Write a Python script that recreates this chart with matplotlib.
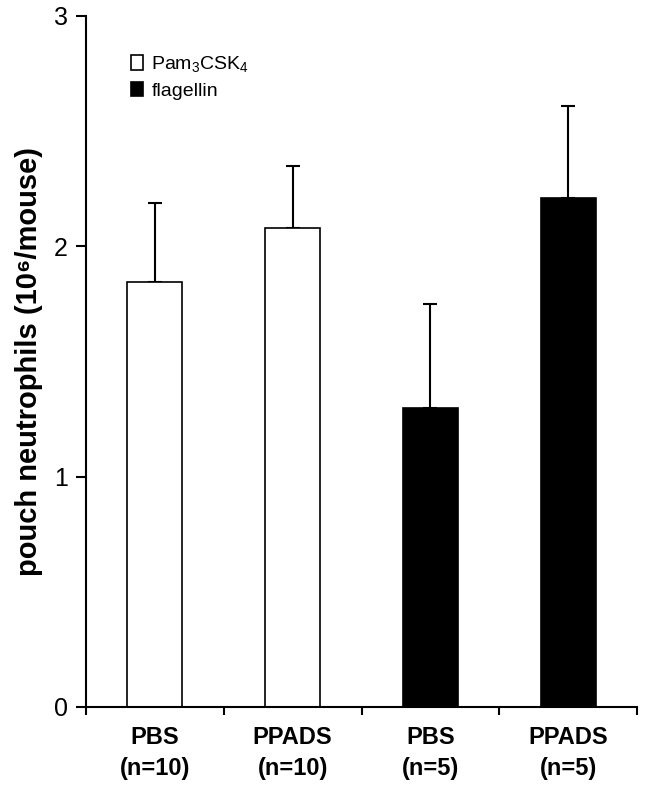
import numpy as np
import matplotlib
matplotlib.use('Agg')
from matplotlib import pyplot as plt
from matplotlib.patches import Patch

# -------------- data ---------------------------------------------------------
groups = ['PBS\n(n=10)', 'PPADS\n(n=10)', 'PBS\n(n=5)', 'PPADS\n(n=5)']
means = [1.845, 2.08, 1.30, 2.21]
errors = [0.345, 0.27, 0.45, 0.40]
colors = ['white', 'white', 'black', 'black']
legend_labels = ['Pam$_3$CSK$_4$', 'flagellin']
# ---------------------------------------------------------------------------

plt.rcParams['font.family'] = ['Liberation Sans', 'DejaVu Sans']
plt.rcParams['mathtext.default'] = 'regular'

fig = plt.figure(figsize=(6.45, 7.87), dpi=100)
ax = fig.add_axes([0.133, 0.1017, 0.855, 0.878])

x = np.arange(len(groups)) + 0.5
ax.bar(x, means, width=0.4, color=colors, edgecolor='black', linewidth=1.2, zorder=2)
ax.errorbar(x, means, yerr=[np.zeros(len(errors)), errors], fmt='none',
            ecolor='black', elinewidth=1.5, capsize=5, capthick=1.5, zorder=1)

ax.set_xlim(0, len(groups))
ax.set_ylim(0, 3)
ax.set_yticks([0, 1, 2, 3])
ax.set_xticks(np.arange(len(groups) + 1))
ax.set_xticklabels([])
ax.set_xticks(x, minor=True)
ax.set_xticklabels(groups, minor=True, fontsize=17, fontweight='bold', linespacing=1.4)
ax.tick_params(axis='x', which='minor', length=0, pad=14)
ax.tick_params(axis='x', which='major', length=6, width=1.5, direction='out')
ax.tick_params(axis='y', length=7, width=1.5, direction='out', labelsize=18, pad=6)

for s in ['top', 'right']:
    ax.spines[s].set_visible(False)
for s in ['left', 'bottom']:
    ax.spines[s].set_linewidth(1.5)

ax.set_ylabel('pouch neutrophils (10\u2076/mouse)', fontsize=21, fontweight='bold', labelpad=8)

handles = [Patch(facecolor=c, edgecolor='black', linewidth=1.2) for c in ['white', 'black']]
ax.legend(handles, legend_labels, loc='upper left', bbox_to_anchor=(0.05, 0.97),
          frameon=False, fontsize=14, handlelength=0.65, handleheight=0.75,
          handletextpad=0.4, labelspacing=0.4)

plt.savefig('out.png', dpi=100)
